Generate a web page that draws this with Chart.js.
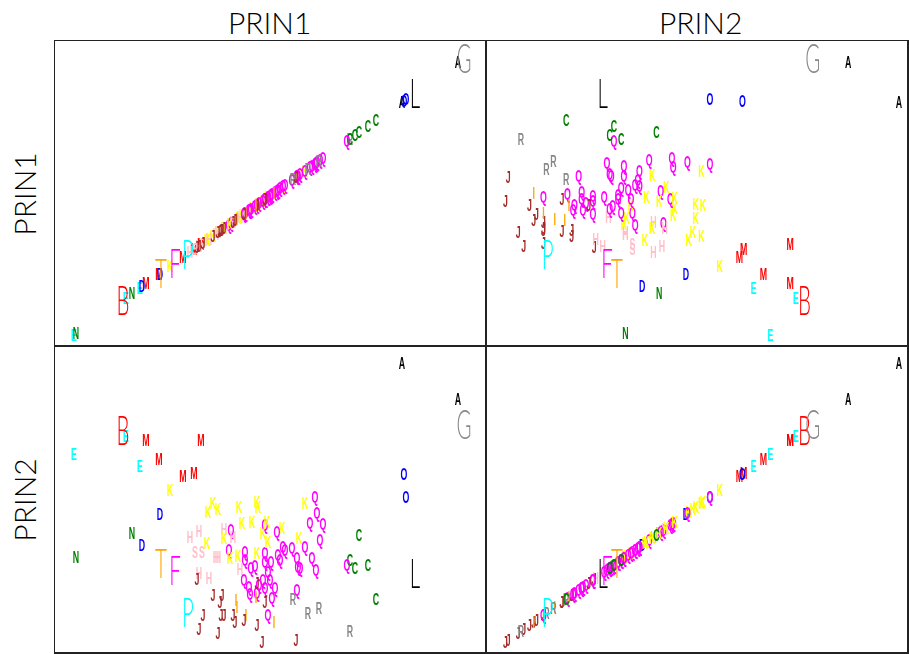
<!DOCTYPE html>
<html>
<head>
<meta charset="utf-8">
<script src="https://cdn.jsdelivr.net/npm/chart.js@4.4.1/dist/chart.umd.min.js"></script>
<style>
  body { margin: 0; background: #fff; }
  #wrap { position: relative; width: 909px; height: 654px; overflow: hidden; }
  .panel { position: absolute; }
  .ttl { position: absolute; font-family: Lato, sans-serif; font-weight: 300; font-size: 30px; color: #000; white-space: nowrap; }
  .vl { transform: rotate(-90deg); transform-origin: center center; }
  .line { position: absolute; background: #222; }
</style>
</head>
<body>
<div id="wrap">
  <div class="ttl" style="left:228px; top:4px;">PRIN1</div>
  <div class="ttl" style="left:659px; top:4px;">PRIN2</div>
  <div class="ttl vl" style="left:-18px; top:176px;">PRIN1</div>
  <div class="ttl vl" style="left:-18px; top:482px;">PRIN2</div>

  <div class="panel" style="left:55px; top:40px; width:431px; height:306px;"><canvas id="tl"></canvas></div>
  <div class="panel" style="left:486px; top:40px; width:422px; height:306px;"><canvas id="tr"></canvas></div>
  <div class="panel" style="left:55px; top:346px; width:431px; height:307px;"><canvas id="bl"></canvas></div>
  <div class="panel" style="left:486px; top:346px; width:422px; height:307px;"><canvas id="br"></canvas></div>

  <div class="line" style="left:54px; top:40px; width:855px; height:1px;"></div>
  <div class="line" style="left:54px; top:652px; width:855px; height:2px;"></div>
  <div class="line" style="left:54px; top:40px; width:1px; height:614px;"></div>
  <div class="line" style="left:907px; top:40px; width:2px; height:614px;"></div>
  <div class="line" style="left:485px; top:40px; width:2px; height:614px;"></div>
  <div class="line" style="left:54px; top:345px; width:855px; height:2px;"></div>
</div>

<script>
// observations: letter, PRIN1, PRIN2
const letters = [
  'E','M','M','E','M','E','M','M','K','A','A','O','O','D','N','D','N',
  'K','K','K','K','K','K','K','K','Q',
  'H','H','Q','H','H','K','K','S','S','H','H','Q','K','K','Q','Q','K','Q',
  'H','J','H','H','Q','Q','Q','Q',
  'J','J','J','I','I',
  'J','J','J','J','J','I','J','J','J','J','J','Q',
  'K','Q','Q','Q','Q','Q','K','K','Q','K','K','K','Q','Q','Q','Q','Q','Q','Q','Q','Q','Q','Q','Q',
  'Q','Q','Q','Q','Q','Q','Q','Q','Q','Q','J','J','I','Q','R','R','R','R','I','J',
  'C','C','Q','C','C','C'
];
const prin1 = [
  7.1, 9.1, 14.6, 1.9, 10.4, 8.5, 12.8, 13.9, 11.5, 34.7, 40.3, 34.9, 35.1, 10.5, 7.7, 8.7, 2.1,
  15.8, 15.3, 16.3, 18.4, 20.2, 20.3, 18.7, 19.7, 21.0,
  14.4, 13.5, 17.6, 16.9, 17.8, 16.9, 15.2, 14.0, 14.7, 16.1, 16.3, 17.4, 17.5, 18.3, 19.0, 19.0, 20.2, 21.0,
  14.4, 14.2, 15.4, 18.5, 19.6, 20.0, 18.9, 19.4,
  15.8, 16.7, 16.5, 18.1, 18.2,
  14.8, 16.6, 16.9, 17.8, 18.0, 19.1, 18.9, 14.4, 16.3, 20.2, 20.7, 21.3,
  25.0, 26.0, 26.2, 26.8, 25.5, 26.5, 21.2, 22.7, 22.2, 20.8, 21.3, 24.4, 25.0, 22.8, 23.0, 23.7, 22.3, 22.5, 24.2, 24.3, 24.5, 25.7, 26.1, 21.0,
  21.6, 21.3, 21.5, 20.8, 20.4, 21.0, 22.0, 21.7, 20.2, 24.2, 20.2, 21.0, 20.1, 19.5, 23.8, 25.3, 26.4, 29.5, 21.9, 24.1,
  30.4, 29.5, 29.2, 30.0, 31.3, 32.1
];
const prin2 = [
  21.7, 21.3, 21.3, 19.9, 19.4, 18.7, 17.7, 18.0, 16.3, 29.0, 25.4, 17.9, 15.6, 13.9, 12.0, 10.8, 9.6,
  15.0, 14.1, 14.4, 14.6, 15.1, 14.6, 13.0, 13.1, 12.8,
  12.2, 11.6, 12.3, 12.4, 11.6, 11.5, 11.0, 10.1, 10.1, 9.6, 9.6, 10.3, 9.5, 9.7, 10.1, 9.3, 10.0, 10.0,
  8.0, 7.4, 7.5, 8.4, 8.5, 8.7, 7.3, 6.6,
  5.8, 5.8, 5.1, 5.3, 4.6,
  3.8, 3.8, 3.8, 3.8, 3.1, 3.8, 3.3, 2.4, 2.0, 2.8, 1.1, 3.8,
  15.0, 15.6, 14.0, 12.9, 13.0, 11.3, 13.1, 12.5, 12.1, 12.0, 11.1, 11.5, 10.6, 10.6, 10.3, 10.5, 9.8, 9.3, 9.5, 8.6, 8.5, 9.5, 8.3, 9.1,
  9.1, 8.1, 7.3, 7.3, 6.8, 6.5, 6.5, 5.5, 6.0, 6.3, 7.0, 5.1, 5.6, 5.9, 5.4, 4.0, 4.5, 2.2, 3.1, 1.3,
  11.8, 9.3, 8.8, 8.5, 8.8, 5.4
];
// the large letters
const bigLetters = ['B', 'G', 'T', 'F', 'P', 'L'];
const bigPrin1 = [6.8, 40.9, 10.6, 12.0, 13.3, 36.0];
const bigPrin2 = [22.3, 22.9, 9.0, 8.3, 4.1, 8.0];

const letterColors = ['#000000', '#ff0000', '#008000', '#0000ff', '#00ffff', '#ff00ff',
  '#888888', '#ffc0cb', '#ffa500', '#a52a2a', '#ffff00'];
function colorOf(ch) { return letterColors[(ch.charCodeAt(0) - 65) % 11]; }

const prin1Range = { x: [0, 43.1], y: [0.28, 43.44] };
const prin2Range = { x: [-0.28, 29.65], y: [0, 30.7] };

const letterPlugin = {
  id: 'letters',
  afterDatasetsDraw(chart) {
    const ctx = chart.ctx;
    chart.data.datasets.forEach((ds, i) => {
      const meta = chart.getDatasetMeta(i);
      meta.data.forEach((pt, j) => {
        const ch = ds.letters[j];
        ctx.save();
        ctx.translate(pt.x, pt.y);
        ctx.fillStyle = colorOf(ch);
        ctx.textAlign = 'center';
        ctx.textBaseline = 'alphabetic';
        if (ds.big) {
          ctx.scale(0.5, 1);
          ctx.font = '300 41px Lato';
          ctx.fillText(ch, 0, 15);
        } else {
          ctx.scale(0.55, 1);
          ctx.font = 'bold 16px "Liberation Sans"';
          ctx.fillText(ch, 0, 6);
        }
        ctx.restore();
      });
    });
  }
};

function makePanel(id, xs, ys, xRange, yRange) {
  const pts = xs.map((v, i) => ({ x: v, y: ys[i] }));
  const bx = xs === prin1 ? bigPrin1 : bigPrin2;
  const by = ys === prin1 ? bigPrin1 : bigPrin2;
  const bigPts = bx.map((v, i) => ({ x: v, y: by[i] }));
  new Chart(document.getElementById(id), {
    type: 'scatter',
    data: {
      datasets: [
        { data: pts, letters: letters, big: false, pointRadius: 0 },
        { data: bigPts, letters: bigLetters, big: true, pointRadius: 0 }
      ]
    },
    options: {
      responsive: true,
      maintainAspectRatio: false,
      animation: false,
      layout: { padding: 0 },
      plugins: { legend: { display: false }, tooltip: { enabled: false } },
      scales: {
        x: { type: 'linear', display: false, min: xRange[0], max: xRange[1] },
        y: { type: 'linear', display: false, min: yRange[0], max: yRange[1] }
      }
    },
    plugins: [letterPlugin]
  });
}

makePanel('tl', prin1, prin1, prin1Range.x, prin1Range.y);
makePanel('tr', prin2, prin1, prin2Range.x, prin1Range.y);
makePanel('bl', prin1, prin2, prin1Range.x, prin2Range.y);
makePanel('br', prin2, prin2, prin2Range.x, prin2Range.y);
</script>
</body>
</html>
